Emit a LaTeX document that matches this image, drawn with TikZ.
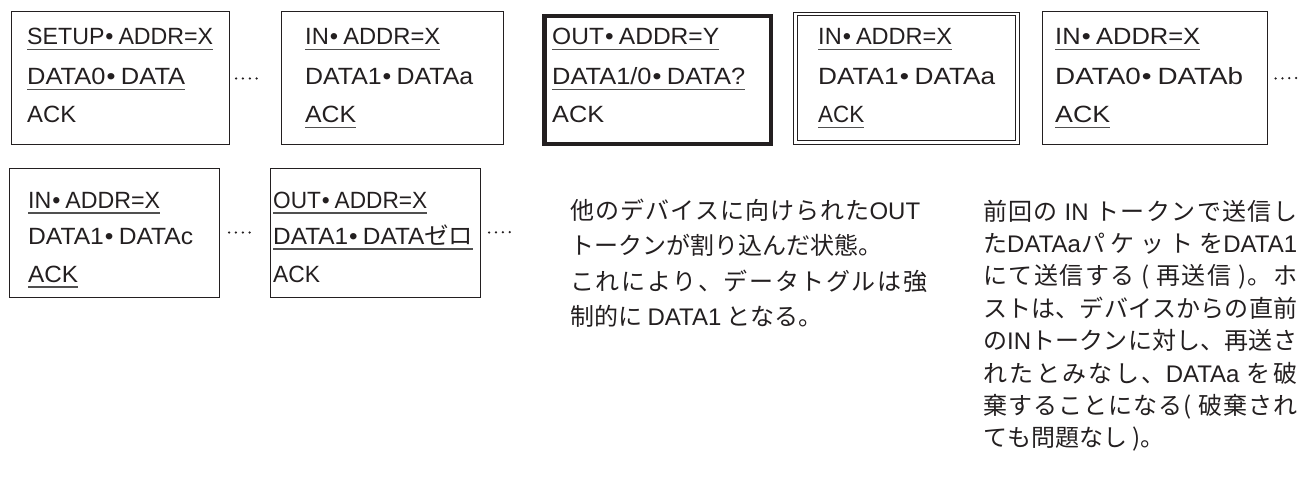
\documentclass[tikz,border=0pt]{standalone}
\usepackage{graphicx}
\usepackage{fontspec}
\setmainfont{Liberation Sans}
\newfontfamily\cjk{Noto Sans CJK JP}
\newfontfamily\latn{Liberation Sans}
\definecolor{ink}{HTML}{231F20}
\definecolor{ulc}{HTML}{505050}
% inter-character stretch for justified Japanese lines
\newXeTeXintercharclass\cjkclass
\newcount\cc
\cc="3000 \loop \XeTeXcharclass\cc=\cjkclass \ifnum\cc<"30FF \advance\cc 1 \repeat
\cc="4E00 \loop \XeTeXcharclass\cc=\cjkclass \ifnum\cc<"9FFF \advance\cc 1 \repeat
\cc="FF00 \loop \XeTeXcharclass\cc=\cjkclass \ifnum\cc<"FF60 \advance\cc 1 \repeat
\XeTeXinterchartoks\cjkclass\cjkclass={\hskip0pt plus 1pt\relax}
\XeTeXinterchartoks\cjkclass 0={\hskip0pt plus 1pt\relax}
\XeTeXinterchartoks 0\cjkclass={\hskip0pt plus 1pt\relax}
\newcommand\ulx[1]{\setbox0\hbox{#1}\rlap{\raisebox{-5.5pt}{\textcolor{ulc}{\rule{\wd0}{1.1pt}}}}\box0}
\newcommand\dt{\hspace{1pt}•\hspace{5pt}}
\newcommand\fitw[2]{\setbox2\hbox{#2}\pgfmathsetmacro\fitf{#1/\wd2}\scalebox{\fitf}[1]{\box2}}
\newcommand\jl[2]{\makebox[#1pt][s]{\spaceskip=6pt plus 0.5pt\relax #2}}
\newcommand\lt[1]{{\latn #1}}
\begin{document}
\XeTeXinterchartokenstate=1
\begin{tikzpicture}[x=1pt,y=-1pt,
  box/.style={draw=ink, line width=1pt, rectangle, inner sep=0pt, anchor=north west},
  thickbox/.style={box, line width=4.5pt},
  dblbox/.style={box, line width=0.8pt, double, double distance=2.6pt},
  lbl/.style={anchor=base west, inner sep=0pt, font=\fontsize{23.5}{27}\selectfont, text=ink},
  jp/.style={anchor=base west, inner sep=0pt, font=\cjk\fontsize{24}{28}\selectfont, text=ink},
  dotline/.style={draw=ink, line width=2.5pt, line cap=round, dash pattern=on 0pt off 6.9pt}]
\useasboundingbox (0,0) rectangle (1301,484);
% row 1 boxes
\node[box, minimum width=218pt, minimum height=133pt] (b1) at (10.5,11.5) {};
\node[box, minimum width=222pt, minimum height=133pt] (b2) at (280.5,11.5) {};
\node[thickbox, minimum width=226.5pt, minimum height=128pt] (b3) at (542.25,14) {};
\node[dblbox, minimum width=222pt, minimum height=128.4pt] (b4) at (795,13.8) {};
\node[box, minimum width=225pt, minimum height=133pt] (b5) at (1041.5,11.5) {};
% row 2 boxes
\node[box, minimum width=210pt, minimum height=129pt] (b6) at (8.5,167.5) {};
\node[box, minimum width=210pt, minimum height=129pt] (b7) at (269.5,167.5) {};
% dotted connectors
\coordinate (e1) at (1297,78);
\coordinate (e2) at (515.6,232);
\draw[dotline] ([xshift=6.5pt]b1.east) -- ([xshift=-17pt]b2.west);
\draw[dotline] ([xshift=8pt]b5.east) -- (e1);
\draw[dotline] ([xshift=9.5pt]b6.east) -- ([xshift=-14pt]b7.west);
\draw[dotline] ([xshift=8.5pt]b7.east) -- (e2);
% box 1
\node[lbl] (t11) at (27,45) {\fitw{186}{\ulx{SETUP\dt ADDR=X}}};
\node[lbl] (t12) at (27,85) {\fitw{158}{\ulx{DATA0\dt DATA}}};
\node[lbl] (t13) at (27,123) {\fitw{49}{ACK}};
% box 2
\node[lbl] (t21) at (305,45) {\fitw{135}{\ulx{IN\dt ADDR=X}}};
\node[lbl] (t22) at (305,85) {\fitw{168}{DATA1\dt DATAa}};
\node[lbl] (t23) at (305,123) {\fitw{51}{\ulx{ACK}}};
% box 3
\node[lbl] (t31) at (552,45) {\fitw{167}{\ulx{OUT\dt ADDR=Y}}};
\node[lbl] (t32) at (552,85) {\fitw{193}{\ulx{DATA1/0\dt DATA?}}};
\node[lbl] (t33) at (552,123) {\fitw{52}{ACK}};
% box 4
\node[lbl] (t41) at (818,45) {\fitw{134}{\ulx{IN\dt ADDR=X}}};
\node[lbl] (t42) at (818,85) {\fitw{177}{DATA1\dt DATAa}};
\node[lbl] (t43) at (818,123) {\fitw{46}{\ulx{ACK}}};
% box 5
\node[lbl] (t51) at (1055,45) {\fitw{145}{\ulx{IN\dt ADDR=X}}};
\node[lbl] (t52) at (1055,85) {\fitw{188}{DATA0\dt DATAb}};
\node[lbl] (t53) at (1055,123) {\fitw{55}{\ulx{ACK}}};
% box 6
\node[lbl] (t61) at (28,208) {\fitw{132}{\ulx{IN\dt ADDR=X}}};
\node[lbl] (t62) at (28,244) {\fitw{165}{DATA1\dt DATAc}};
\node[lbl] (t63) at (28,282) {\fitw{50}{\ulx{ACK}}};
% box 7
\node[lbl] (t71) at (273,208) {\fitw{154}{\ulx{OUT\dt ADDR=X}}};
\node[lbl] (t72) at (273,244) {\fitw{200}{\ulx{DATA1\dt DATA{\cjk ゼロ}}}};
\node[lbl] (t73) at (273,282) {\fitw{47}{ACK}};
% paragraph 1
\node[jp] (p11) at (570,219) {\jl{350}{他のデバイスに向けられた\lt{OUT}}};
\node[jp] (p12) at (570,254.5) {トークンが割り込んだ状態。};
\node[jp] (p13) at (570,290) {\jl{357}{これにより、データトグルは強}};
\node[jp] (p14) at (570,325.5) {制的に \lt{DATA1} となる。};
% paragraph 2
\node[jp] (p21) at (983,220) {\jl{314}{前回の \lt{IN} トークンで送信し}};
\node[jp] (p22) at (983,252.4) {\jl{314}{た\lt{DATAa}パケットを\lt{DATA1}}};
\node[jp] (p23) at (983,284.8) {\jl{314}{にて送信する ( 再送信 )。ホ}};
\node[jp] (p24) at (983,317.2) {\jl{314}{ストは、デバイスからの直前}};
\node[jp] (p25) at (983,349.6) {\jl{314}{の\lt{IN}トークンに対し、再送さ}};
\node[jp] (p26) at (983,382) {\jl{314}{れたとみなし、\lt{DATAa} を破}};
\node[jp] (p27) at (983,414.4) {\jl{314}{棄することになる( 破棄され}};
\node[jp] (p28) at (983,446.8) {ても問題なし )。};
\end{tikzpicture}
\end{document}
